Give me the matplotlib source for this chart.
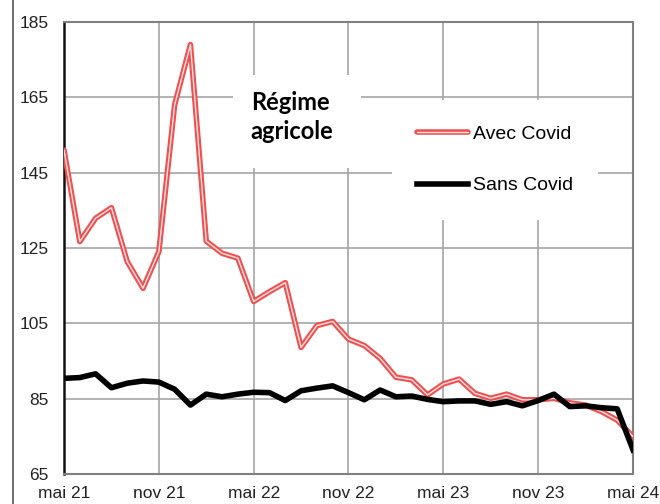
import matplotlib
matplotlib.use("Agg")
import matplotlib.pyplot as plt
import matplotlib.patheffects as pe
from matplotlib.lines import Line2D
from matplotlib.patches import Rectangle

# Monthly series, mai 21 -> mai 24
avec_covid = [151, 126.7, 132.9, 135.7, 121.4, 114.3, 124, 163, 179, 126.8,
              123.6, 122.3, 110.8, 113.4, 115.8, 98.6, 104.4, 105.5, 100.8, 99.1,
              95.7, 90.7, 90.0, 86.0, 88.9, 90.2, 86.4, 85.1, 86.2, 84.7,
              84.7, 85.1, 83.9, 83.3, 81.6, 79.3, 74.9]
sans_covid = [90.4, 90.6, 91.6, 87.9, 89.1, 89.7, 89.4, 87.5, 83.3, 86.2,
              85.5, 86.2, 86.7, 86.6, 84.5, 87.1, 87.8, 88.4, 86.6, 84.7,
              87.3, 85.5, 85.7, 84.8, 84.2, 84.4, 84.4, 83.5, 84.2, 83.1,
              84.5, 86.2, 82.9, 83.1, 82.6, 82.3, 71.4]
months = list(range(len(avec_covid)))
tick_pos = [0, 6, 12, 18, 24, 30, 36]
tick_labels = ["mai 21", "nov 21", "mai 22", "nov 22", "mai 23", "nov 23", "mai 24"]
y_ticks = [65, 85, 105, 125, 145, 165, 185]

plt.rcParams['font.family'] = ['Liberation Sans', 'DejaVu Sans']

fig = plt.figure(figsize=(6.6, 5.04), dpi=100)
ax = fig.add_axes([64/660, 30/504, 569/660, 452/504])

# red "double" line
ax.plot(months, avec_covid, color='#ffe4e4', lw=1.0, label='Avec Covid',
        solid_joinstyle='round', solid_capstyle='round', zorder=3,
        path_effects=[pe.Stroke(linewidth=4.0, foreground='#f05050'), pe.Normal()])
ax.plot(months, sans_covid, color='black', lw=4.0, label='Sans Covid',
        solid_joinstyle='round', zorder=4)

ax.set_xlim(0, 36)
ax.set_ylim(65, 185)
ax.set_xticks(tick_pos)
ax.set_xticklabels(tick_labels)
ax.set_yticks(y_ticks)
ax.tick_params(axis='both', length=0, labelsize=12.5, colors='#222222')
ax.tick_params(axis='x', pad=9)
ax.tick_params(axis='y', pad=11)

ax.grid(True, color='#a6a6a6', lw=1.2)
ax.set_axisbelow(True)
for side in ['top', 'right', 'bottom']:
    ax.spines[side].set_color('#808080')
    ax.spines[side].set_linewidth(1.5)
ax.spines['left'].set_color('#111111')
ax.spines['left'].set_linewidth(1.8)

# white box behind the title text (hides the grid)
ax.add_patch(Rectangle((0.297, 0.677), 0.225, 0.206, transform=ax.transAxes,
                       facecolor='white', edgecolor='none', zorder=2))
ax.text(0.328, 0.79, "Régime\nagricole", transform=ax.transAxes,
        family=['Lato', 'DejaVu Sans'], fontweight='bold', fontsize=17,
        linespacing=1.3, ha='left', va='center', zorder=5)

leg = ax.legend(loc='center', bbox_to_anchor=(0.758, 0.695), fontsize=14,
                frameon=True, facecolor='white', edgecolor='none', framealpha=1,
                fancybox=False, handlelength=2.6, handletextpad=0.26,
                labelspacing=1.75, borderpad=1.3)
leg.set_zorder(5)

# thin frame line on the left of the image
fig.add_artist(Line2D([13/660, 13/660], [0, 1], transform=fig.transFigure,
                      color='#555555', lw=1.2))

fig.savefig("out.png", dpi=100)
